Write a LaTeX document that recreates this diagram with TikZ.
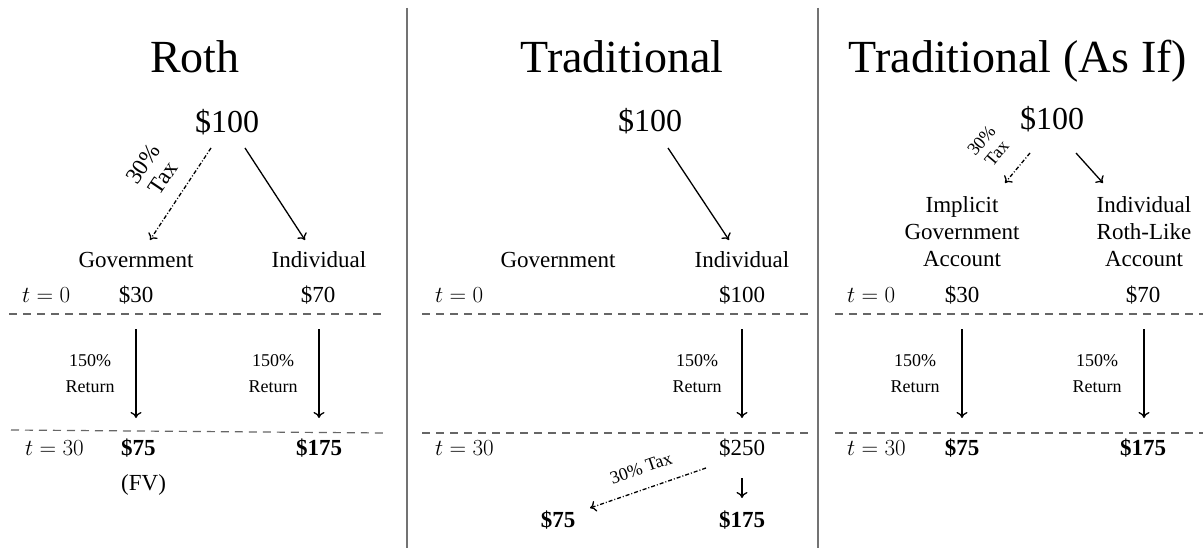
\documentclass[tikz,border=0pt]{standalone}
\usepackage{fix-cm}
\usepackage{fontspec}
\setmainfont{Liberation Serif}
\usetikzlibrary{arrows.meta}
\begin{document}
\begin{tikzpicture}[x=1pt,y=-1pt,
  txt/.style={inner sep=0pt, anchor=base},
  ttl/.style={txt, font=\fontsize{46}{50}\selectfont},
  amt/.style={txt, font=\fontsize{32}{36}\selectfont},
  lbl/.style={txt, font=\fontsize{23}{26}\selectfont},
  bld/.style={txt, font=\fontsize{23}{26}\selectfont\bfseries},
  sml/.style={txt, font=\fontsize{18}{22}\selectfont},
  tlab/.style={inner sep=0pt, anchor=base west, font=\fontsize{23}{26}\selectfont},
  rotlab/.style={inner sep=0pt, align=center, anchor=center},
  flow/.style={-{To[length=6pt,width=11pt]}, line width=1.3pt},
  taxflow/.style={flow, dash pattern=on 4pt off 2pt on 1pt off 2pt},
  period/.style={line width=1.2pt, black!60, dash pattern=on 8pt off 6pt},
  divider/.style={line width=1.6pt, black!55}]
\useasboundingbox (0,0) rectangle (1203,548);
\fill[white] (0,0) rectangle (1203,548);

% dividers
\coordinate (d1t) at (407,8); \coordinate (d1b) at (407,548);
\coordinate (d2t) at (818,8); \coordinate (d2b) at (818,548);
\draw[divider] (d1t) -- (d1b);
\draw[divider] (d2t) -- (d2b);

% ================= Panel 1: Roth =================
\node[ttl] (rT) at (195,73) {Roth};
\node[amt] (r100) at (227,133) {\$100};
\node[lbl] (rgov) at (136,268) {Government};
\node[lbl] (rind) at (319,268) {Individual};
\coordinate (r1s) at (211,148); \coordinate (r1e) at (150,240);
\coordinate (r2s) at (245,148); \coordinate (r2e) at (305,240);
\draw[taxflow] (r1s) -- (r1e);
\draw[flow] (r2s) -- (r2e);
\node[rotlab, rotate=56, font=\fontsize{23}{24}\selectfont] (rtax) at (153,171) {30\%\\Tax};
\node[tlab] (rt0) at (22,302) {$t=0$};
\node[lbl] (r30) at (136,302) {\$30};
\node[lbl] (r70) at (318,302) {\$70};
\coordinate (rl1a) at (9,314); \coordinate (rl1b) at (383,314);
\coordinate (rl2a) at (11,430); \coordinate (rl2b) at (386,433);
\draw[period] (rl1a) -- (rl1b);
\draw[period] (rl2a) -- (rl2b);
\coordinate (r3s) at (136,329); \coordinate (r3e) at (136,418);
\coordinate (r4s) at (319,329); \coordinate (r4e) at (319,418);
\draw[flow] (r3s) -- (r3e);
\draw[flow] (r4s) -- (r4e);
\node[sml] (rr1a) at (90,366) {150\%};
\node[sml] (rr1b) at (90,392) {Return};
\node[sml] (rr2a) at (273,366) {150\%};
\node[sml] (rr2b) at (273,392) {Return};
\node[tlab] (rt30) at (25,455) {$t=30$};
\node[bld, anchor=base west] (r75) at (121,455) {\$75};
\node[lbl, anchor=base west] (rfv) at (121,490) {(FV)};
\node[bld] (r175) at (319,455) {\$175};

% ================= Panel 2: Traditional =================
\node[ttl] (tT) at (622,73) {Traditional};
\node[amt] (t100) at (650,132) {\$100};
\node[lbl] (tgov) at (558,268) {Government};
\node[lbl] (tind) at (742,268) {Individual};
\coordinate (t1s) at (668,148); \coordinate (t1e) at (729,240);
\draw[flow] (t1s) -- (t1e);
\node[tlab] (tt0) at (435,302) {$t=0$};
\node[lbl] (t100b) at (742,302) {\$100};
\coordinate (tl1a) at (422,314); \coordinate (tl1b) at (810,314);
\coordinate (tl2a) at (422,433); \coordinate (tl2b) at (810,433);
\draw[period] (tl1a) -- (tl1b);
\draw[period] (tl2a) -- (tl2b);
\coordinate (t2s) at (742,329); \coordinate (t2e) at (742,418);
\draw[flow] (t2s) -- (t2e);
\node[sml] (tr1a) at (697,366) {150\%};
\node[sml] (tr1b) at (697,392) {Return};
\node[tlab] (tt30) at (435,455) {$t=30$};
\node[lbl] (t250) at (742,455) {\$250};
\coordinate (t3s) at (742,478); \coordinate (t3e) at (742,498);
\draw[flow] (t3s) -- (t3e);
\node[bld] (t175) at (742,527) {\$175};
\node[bld] (t75) at (558,527) {\$75};
\coordinate (t4s) at (706,468); \coordinate (t4e) at (590,508);
\draw[taxflow] (t4s) -- (t4e);
\node[inner sep=0pt, rotate=19, font=\fontsize{18}{22}\selectfont] (ttax) at (641,468) {30\% Tax};

% ================= Panel 3: Traditional (As If) =================
\node[ttl] (aT) at (1018,73) {Traditional (As If)};
\node[amt] (a100) at (1052,130) {\$100};
\coordinate (a1s) at (1030,153); \coordinate (a1e) at (1005,183);
\coordinate (a2s) at (1076,153); \coordinate (a2e) at (1103,183);
\draw[taxflow] (a1s) -- (a1e);
\draw[flow] (a2s) -- (a2e);
\node[rotlab, rotate=50, font=\fontsize{18}{20}\selectfont] (atax) at (989,147) {30\%\\Tax};
\node[lbl] (ag1) at (962,213) {Implicit};
\node[lbl] (ag2) at (962,240) {Government};
\node[lbl] (ag3) at (962,267) {Account};
\node[lbl] (ai1) at (1144,213) {Individual};
\node[lbl] (ai2) at (1144,240) {Roth-Like};
\node[lbl] (ai3) at (1144,267) {Account};
\node[tlab] (at0) at (847,302) {$t=0$};
\node[lbl] (a30) at (962,302) {\$30};
\node[lbl] (a70) at (1143,302) {\$70};
\coordinate (al1a) at (835,314); \coordinate (al1b) at (1203,314);
\coordinate (al2a) at (835,433); \coordinate (al2b) at (1203,433);
\draw[period] (al1a) -- (al1b);
\draw[period] (al2a) -- (al2b);
\coordinate (a3s) at (962,329); \coordinate (a3e) at (962,418);
\coordinate (a4s) at (1144,329); \coordinate (a4e) at (1144,418);
\draw[flow] (a3s) -- (a3e);
\draw[flow] (a4s) -- (a4e);
\node[sml] (ar1a) at (915,366) {150\%};
\node[sml] (ar1b) at (915,392) {Return};
\node[sml] (ar2a) at (1097,366) {150\%};
\node[sml] (ar2b) at (1097,392) {Return};
\node[tlab] (at30) at (847,455) {$t=30$};
\node[bld] (a75) at (962,455) {\$75};
\node[bld] (a175) at (1143,455) {\$175};
\end{tikzpicture}
\end{document}
